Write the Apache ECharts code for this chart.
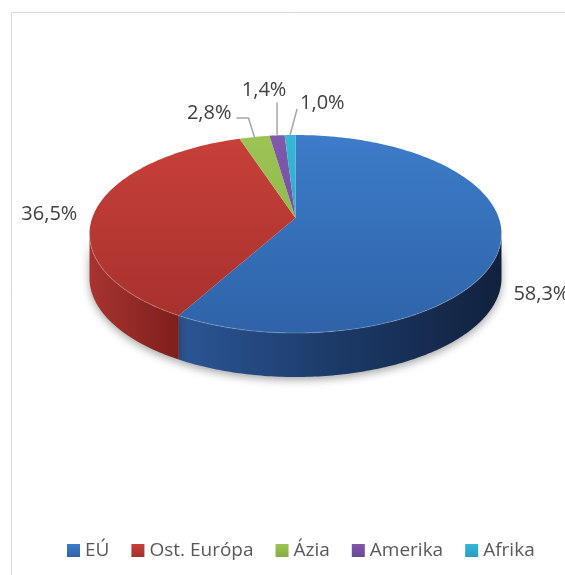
<!DOCTYPE html>
<html>
<head>
<meta charset="utf-8">
<script src="https://cdn.jsdelivr.net/npm/echarts@6/dist/echarts.min.js"></script>
<style>
  html, body { margin: 0; padding: 0; background: #fff; }
  #chart { width: 565px; height: 575px; }
</style>
</head>
<body>
<div id="chart"></div>
<script>
// adatok
const regions = ["EÚ", "Ost. Európa", "Ázia", "Amerika", "Afrika"];
const shares = [58.3, 36.5, 2.8, 1.4, 1.0];

// színek: fedőlap [világos, sötét]
const topColors = [
  ["#3d7cc9", "#2e63a8"],
  ["#c8403a", "#a5302c"],
  ["#9cc455", "#86ad40"],
  ["#8058ac", "#6c4696"],
  ["#36b7d6", "#2a9dbd"]
];
// oldalfal színátmenet (balról jobbra, a teljes szélességre)
const sideStops = [
  [[0, "#3364a6"], [0.23, "#2b5593"], [0.6, "#1c3a68"], [1, "#11213d"]],
  [[0, "#a83430"], [0.23, "#7a1e1b"], [1, "#3a0c0a"]],
  [[0, "#6f8f33"], [1, "#3d521a"]],
  [[0, "#5a3a80"], [1, "#2e1d44"]],
  [[0, "#237f99"], [1, "#10404e"]]
];

// címkék elhelyezése a szelet közepének peremponjtához képest
const labelLayout = [
  { dx: 13, dy: 50, align: "left" },
  { dx: -19, dy: 6, align: "right" },
  { dx: -23, dy: -24, align: "right", line: [[-6, -19], [-18, -19]] },
  { dx: -13, dy: -45, align: "center", line: [[0, -33]] },
  { dx: 10, dy: -32, align: "left", line: [[7, -26]] }
];

// ellipszis geometria (3D torta, perspektívával)
const cx = 295.5, cy = 234, rx = 206, ry = 99, depth = 44, apexDy = -16;
const fontFamily = "'Open Sans', 'Noto Sans', sans-serif";

const total = shares.reduce((a, b) => a + b, 0);

function rim(t, dy) {
  const r = t * Math.PI / 180;
  return [cx + rx * Math.sin(r), cy - ry * Math.cos(r) + (dy || 0)];
}

// szelet-szög -> ellipszis paraméter (sugár a csúcsból, perspektíva)
function phi(t) {
  if (t <= 0) return 0;
  if (t >= 360) return 360;
  const r = t * Math.PI / 180;
  const ux = Math.sin(r), uy = -Math.cos(r);
  const oy = apexDy / ry;
  const A = ux * ux + uy * uy, B = 2 * oy * uy, C = oy * oy - 1;
  const s = (-B + Math.sqrt(B * B - 4 * A * C)) / (2 * A);
  const px = ux * s, py = oy + uy * s;
  let p = Math.atan2(px, -py) * 180 / Math.PI;
  if (p < 0) p += 360;
  return p;
}

function arc(a, b, dy) {
  const pts = [];
  const n = Math.max(2, Math.ceil(b - a));
  for (let k = 0; k <= n; k++) {
    pts.push(rim(a + (b - a) * k / n, dy));
  }
  return pts;
}

function fmt(v) {
  return v.toFixed(1).replace(".", ",") + "%";
}

function renderSlice(i) {
  return function (params, api) {
    let start = 0;
    for (let k = 0; k < i; k++) start += shares[k];
    const t0 = start / total * 360;
    const t1 = (start + api.value(0)) / total * 360;
    const a0 = phi(t0), a1 = phi(t1);
    const children = [];

    // oldalfal (csak az elülső félen látszik)
    const s = Math.max(a0, 90), e = Math.min(a1, 270);
    if (s < e) {
      const top = arc(s, e);
      const bottom = arc(s, e, depth).reverse();
      children.push({
        type: "polygon",
        shape: { points: top.concat(bottom) },
        style: {
          fill: new echarts.graphic.LinearGradient(cx - rx, 0, cx + rx, 0,
            sideStops[i].map(st => ({ offset: st[0], color: st[1] })), true),
          shadowBlur: 8,
          shadowOffsetY: 3,
          shadowColor: "rgba(0,0,0,0.35)"
        }
      });
    }

    // fedőlap
    children.push({
      type: "polygon",
      shape: { points: [[cx, cy + apexDy]].concat(arc(a0, a1)) },
      style: {
        fill: new echarts.graphic.LinearGradient(0, cy - ry, 0, cy + ry, [
          { offset: 0, color: topColors[i][0] },
          { offset: 1, color: topColors[i][1] }
        ], true)
      }
    });

    // perem kiemelés
    if (s < e) {
      children.push({
        type: "polyline",
        shape: { points: arc(s, e) },
        style: { fill: null, stroke: "rgba(255,255,255,0.18)", lineWidth: 1.2 }
      });
    }

    // címke
    const m = rim(phi((t0 + t1) / 2));
    const lay = labelLayout[i];
    if (lay.line) {
      children.push({
        type: "polyline",
        shape: { points: [m].concat(lay.line.map(p => [m[0] + p[0], m[1] + p[1]])) },
        style: { fill: null, stroke: "#a6a6a6", lineWidth: 1.5 }
      });
    }
    children.push({
      type: "text",
      style: {
        x: m[0] + lay.dx,
        y: m[1] + lay.dy,
        text: fmt(api.value(0)),
        align: lay.align,
        verticalAlign: "middle",
        fill: "#404040",
        fontSize: 20,
        fontFamily: fontFamily
      }
    });

    return { type: "group", children: children };
  };
}

const chart = echarts.init(document.getElementById("chart"));

const option = {
  animation: false,
  graphic: [{
    type: "rect",
    shape: { x: 11.5, y: 12.5, width: 600, height: 600 },
    style: { fill: "none", stroke: "#d9d9d9", lineWidth: 1 },
    silent: true
  }],
  legend: {
    data: regions,
    left: 62,
    top: 536,
    icon: "rect",
    itemWidth: 13,
    itemHeight: 13,
    itemGap: 22,
    textStyle: { fontSize: 19, color: "#595959", fontFamily: fontFamily }
  },
  series: regions.map((name, i) => ({
    name: name,
    type: "custom",
    coordinateSystem: "none",
    silent: true,
    itemStyle: {
      color: new echarts.graphic.LinearGradient(0, 0, 0, 1, [
        { offset: 0, color: topColors[i][0] },
        { offset: 1, color: topColors[i][1] }
      ])
    },
    renderItem: renderSlice(i),
    data: [[shares[i]]]
  }))
};

chart.setOption(option);
</script>
</body>
</html>
